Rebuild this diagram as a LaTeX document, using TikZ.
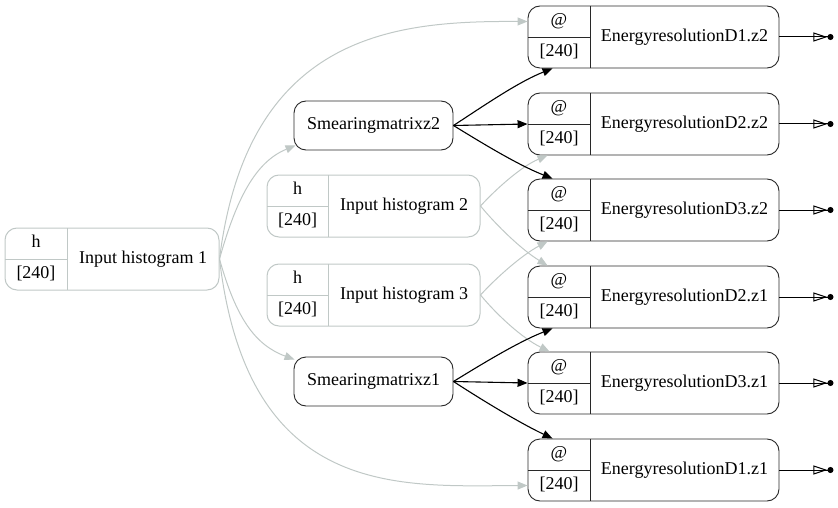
\documentclass[tikz,border=0pt]{standalone}
\usepackage{fontspec}
\setmainfont{Liberation Serif}
\usetikzlibrary{arrows.meta,calc}
\definecolor{edgegray}{RGB}{192,200,198}
\definecolor{recline}{RGB}{40,40,40}
\tikzset{
  txt/.style={inner sep=0pt, text height=12.5pt, text depth=4pt},
  grayrec/.style={draw=edgegray, line width=1pt},
  blackrec/.style={draw=recline, line width=0.9pt},
  gedge/.style={draw=edgegray, line width=1pt, -{Triangle[length=10pt,width=8pt,fill=edgegray]}},
  bedge/.style={draw=black, line width=1.1pt, -{Triangle[length=10pt,width=8pt]}},
  outedge/.style={draw=black, line width=1pt, -{Triangle[open,length=14pt,width=9pt]Circle[length=6pt]}},
  roundbox/.style={blackrec, rectangle, rounded corners=12pt, inner sep=0pt, txt}
}
% #1 name, #2 style, #3 x1, #4 y1, #5 x2, #6 y2, #7 divider x, #8 top text, #9 main text
\newcommand{\recnode}[9]{%
  \node[#2, rectangle, rounded corners=12pt, inner sep=0pt,
        minimum width={#5-#3}, minimum height={#6-#4}] (#1) at ({(#3+#5)/2},{(#4+#6)/2}) {};
  \draw[#2] (#7,#4) -- (#7,#6);
  \draw[#2] (#3,{(#4+#6)/2}) -- (#7,{(#4+#6)/2});
  \node[txt] (#1-t) at ({(#3+#7)/2},{(3*#4+#6)/4}) {#8};
  \node[txt] (#1-b) at ({(#3+#7)/2},{(#4+3*#6)/4}) {[240]};
  \node[txt] (#1-m) at ({(#7+#5)/2},{(#4+#6)/2}) {#9};
}
\begin{document}
\begin{tikzpicture}[x=1pt,y=-1pt,every node/.style={font=\fontsize{18}{21}\selectfont}]
\useasboundingbox (0,0) rectangle (838,508);

% nodes
\recnode{ih1}{grayrec}{5}{228}{219}{290}{67}{h}{Input histogram 1}
\recnode{ih2}{grayrec}{267}{175}{480}{237}{328}{h}{Input histogram 2}
\recnode{ih3}{grayrec}{267}{264}{480}{326}{328}{h}{Input histogram 3}
\node[roundbox, minimum width=159pt, minimum height=49pt] (sm2) at (373.5,125.5) {Smearingmatrixz2};
\node[roundbox, minimum width=159pt, minimum height=49pt] (sm1) at (373.5,381.5) {Smearingmatrixz1};

\recnode{d1z2}{blackrec}{528}{6}{779}{68}{590}{@}{EnergyresolutionD1.z2}
\recnode{d2z2}{blackrec}{528}{93}{779}{155}{590}{@}{EnergyresolutionD2.z2}
\recnode{d3z2}{blackrec}{528}{179}{779}{241}{590}{@}{EnergyresolutionD3.z2}
\recnode{d2z1}{blackrec}{528}{266}{779}{328}{590}{@}{EnergyresolutionD2.z1}
\recnode{d3z1}{blackrec}{528}{352}{779}{414}{590}{@}{EnergyresolutionD3.z1}
\recnode{d1z1}{blackrec}{528}{439}{779}{501}{590}{@}{EnergyresolutionD1.z1}

% gray edges from input histogram 1
\draw[gedge] (ih1.east) .. controls (248,30) and (400,21) .. (d1z2.west |- d1z2-t);
\draw[gedge] (ih1.east) .. controls (236,200) and (255,162) .. ($(sm2.south west)+(2,-5)$);
\draw[gedge] (ih1.east) .. controls (236,318) and (255,345) .. ($(sm1.north west)+(1,3)$);
\draw[gedge] (ih1.east) .. controls (248,500) and (400,486) .. (d1z1.west |- d1z1-b);

% gray edges from input histograms 2 and 3
\draw[gedge] (ih2.east) .. controls (497,188) and (522,166) .. ($(d2z2.south west)+(20,0)$);
\draw[gedge] (ih2.east) .. controls (497,226) and (522,250) .. ($(d2z1.north west)+(20,0)$);
\draw[gedge] (ih3.east) .. controls (497,277) and (522,255) .. ($(d3z2.south west)+(20,0)$);
\draw[gedge] (ih3.east) .. controls (497,315) and (522,338) .. ($(d3z1.north west)+(22,0)$);

% black edges from smearing matrices
\draw[bedge] (sm2.east) .. controls (482,107) and (518,82) .. ($(d1z2.south west)+(25,0)$);
\draw[bedge] (sm2.east) -- (d2z2.west);
\draw[bedge] (sm2.east) .. controls (482,143) and (518,165) .. ($(d3z2.north west)+(25,0)$);
\draw[bedge] (sm1.east) .. controls (482,364) and (518,342) .. ($(d2z1.south west)+(25,0)$);
\draw[bedge] (sm1.east) -- (d3z1.west);
\draw[bedge] (sm1.east) .. controls (482,400) and (518,422) .. ($(d1z1.north west)+(25,0)$);

% output edges
\foreach \n in {d1z2,d2z2,d3z2,d2z1,d3z1,d1z1}{
  \coordinate (\n-out) at ($(\n.east)+(54,0)$);
  \draw[outedge] (\n.east) -- (\n-out);
}
\end{tikzpicture}
\end{document}
